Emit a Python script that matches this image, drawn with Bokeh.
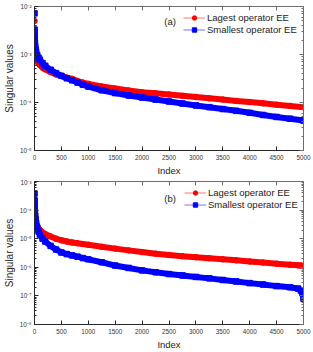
from bokeh.plotting import figure
from bokeh.layouts import column
from bokeh.models import (Range1d, FixedTicker, LinearAxis, LogAxis, CustomJSTickFormatter,
                          Legend, LegendItem, Label)
from bokeh.embed import file_html
from bokeh.resources import INLINE

# ---------------- data ----------------
idx_a = [1, 2, 3, 5, 8, 12, 20, 30, 50, 75, 100, 150, 200, 300, 400, 500, 600, 700, 800, 900,
         1000, 1250, 1500, 1750, 2000, 2250, 2500, 2750, 3000, 3250, 3500, 3750, 4000, 4250,
         4500, 4750, 5000]
largest_a = [5e-3, 1.8e-3, 1.5e-3, 1.25e-3, 1.1e-3, 1.0e-3, 9e-4, 8.2e-4, 7.2e-4, 6.5e-4, 6.0e-4,
             5.3e-4, 4.9e-4, 4.3e-4, 3.85e-4, 3.55e-4, 3.3e-4, 3.1e-4, 2.8e-4, 2.6e-4,
             2.45e-4, 2.15e-4, 1.95e-4, 1.78e-4, 1.63e-4, 1.55e-4, 1.47e-4, 1.38e-4, 1.3e-4,
             1.22e-4, 1.15e-4, 1.08e-4, 1.02e-4, 9.6e-5, 9.0e-5, 8.5e-5, 8.0e-5]
smallest_a = [7.2e-3, 3.3e-3, 2.6e-3, 2.1e-3, 1.75e-3, 1.5e-3, 1.3e-3, 1.15e-3, 9.8e-4, 8.6e-4,
              7.8e-4, 6.6e-4, 5.8e-4, 4.8e-4, 4.1e-4, 3.6e-4, 3.2e-4, 2.9e-4, 2.6e-4, 2.35e-4,
              2.15e-4, 1.8e-4, 1.57e-4, 1.4e-4, 1.27e-4, 1.15e-4, 1.05e-4, 9.5e-5, 8.7e-5,
              8.0e-5, 7.3e-5, 6.7e-5, 6.1e-5, 5.5e-5, 5.0e-5, 4.6e-5, 4.2e-5]

idx_b = [1, 2, 3, 5, 8, 12, 20, 30, 50, 75, 100, 150, 200, 300, 400, 500, 600, 700, 800, 900,
         1000, 1250, 1500, 1750, 2000, 2250, 2500, 2750, 3000, 3250, 3500, 3750, 4000, 4250,
         4500, 4750, 4900, 4950, 4980, 5000]
largest_b = [1.5e-4, 1.1e-4, 9e-5, 7.2e-5, 6e-5, 5e-5, 4.1e-5, 3.5e-5, 2.8e-5, 2.3e-5, 2.0e-5,
             1.65e-5, 1.45e-5, 1.2e-5, 1.0e-5, 8.8e-6, 8.0e-6, 7.4e-6, 6.9e-6, 6.5e-6,
             6.1e-6, 5.2e-6, 4.5e-6, 3.9e-6, 3.4e-6, 3.0e-6, 2.7e-6, 2.45e-6, 2.26e-6,
             2.07e-6, 1.9e-6, 1.75e-6, 1.6e-6, 1.46e-6, 1.34e-6, 1.23e-6, 1.17e-6, 1.15e-6,
             1.12e-6, 1.08e-6]
smallest_b = [3.8e-4, 2.2e-4, 1.6e-4, 1.15e-4, 8.5e-5, 6.5e-5, 4.8e-5, 3.6e-5, 2.5e-5, 1.8e-5,
              1.4e-5, 1.0e-5, 8e-6, 5.6e-6, 4.2e-6, 3.3e-6, 2.9e-6, 2.6e-6, 2.35e-6, 2.1e-6,
              1.9e-6, 1.5e-6, 1.15e-6, 9.5e-7, 7.8e-7, 6.7e-7, 5.8e-7, 5.2e-7, 4.6e-7,
              4.1e-7, 3.6e-7, 3.2e-7, 2.8e-7, 2.5e-7, 2.2e-7, 2.0e-7, 1.8e-7, 1.55e-7,
              1.25e-7, 8e-8]

x_ticks = [0, 500, 1000, 1500, 2000, 2500, 3000, 3500, 4000, 4500, 5000]
y_exp_a = [-5, -4, -3, -2]
y_lab_a = ["10\u207b\u2075", "10\u207b\u2074", "10\u207b\u00b3", "10\u207b\u00b2"]
y_exp_b = [-8, -7, -6, -5, -4, -3]
y_lab_b = ["10\u207b\u2078", "10\u207b\u2077", "10\u207b\u2076", "10\u207b\u2075", "10\u207b\u2074", "10\u207b\u00b3"]
series_names = ["Lagest operator EE", "Smallest operator EE"]
panel_tags = ["(a)", "(b)"]

FONT = "Liberation Sans"
AX = "#262626"
BOX = "#6e6e6e"
RED = "#ff0000"
BLUE = "#0000ff"


def make_panel(idx, big, small, exps, labs, tag, tag_y, height, top, bottom, leg_loc):
    p = figure(width=313, height=height, y_axis_type="log",
               x_range=Range1d(0, 5000), y_range=Range1d(10.0 ** exps[0], 10.0 ** exps[-1]),
               output_backend="svg", toolbar_location=None,
               min_border_left=31, min_border_right=10, min_border_top=top, min_border_bottom=bottom)
    p.grid.visible = False
    p.outline_line_color = None
    p.background_fill_color = "white"

    xt = FixedTicker(ticks=x_ticks, minor_ticks=[])
    minors = [m * 10.0 ** e for e in exps[:-1] for m in range(2, 10)]
    yt = FixedTicker(ticks=[10.0 ** e for e in exps], minor_ticks=minors)
    yfmt = CustomJSTickFormatter(args=dict(exps=exps, labs=labs), code="""
        const e = Math.round(Math.log10(tick));
        const i = exps.indexOf(e);
        return i >= 0 ? labs[i] : "";
    """)
    blank = CustomJSTickFormatter(code="return '';")

    xa = p.xaxis[0]
    xa.ticker = xt
    xa.axis_label = "Index"
    ya = p.yaxis[0]
    ya.ticker = yt
    ya.formatter = yfmt
    ya.axis_label = "Singular values"
    for a in (xa, ya):
        a.axis_line_color = AX
        a.major_tick_line_color = AX
        a.minor_tick_line_color = AX
        a.major_tick_in = 4
        a.major_tick_out = 0
        a.minor_tick_in = 2
        a.minor_tick_out = 0
        a.major_label_text_font = FONT
        a.major_label_text_font_size = "6.3px"
        a.major_label_text_color = "#333333"
        a.axis_label_text_font = FONT
        a.axis_label_text_font_style = "normal"
        a.axis_label_text_color = "#262626"
    xa.major_label_standoff = 4
    xa.axis_label_standoff = 2
    xa.axis_label_text_font_size = "9.5px"
    ya.major_label_standoff = 3
    ya.axis_label_standoff = 2
    ya.axis_label_text_font_size = "10px"

    top_ax = LinearAxis(ticker=xt, formatter=blank)
    right_ax = LogAxis(ticker=yt, formatter=blank)
    for a in (top_ax, right_ax):
        a.axis_line_color = BOX
        a.major_tick_line_color = BOX
        a.minor_tick_line_color = BOX
        a.major_tick_in = 4
        a.major_tick_out = 0
        a.minor_tick_in = 2
        a.minor_tick_out = 0
        a.major_label_standoff = 0
        a.major_label_text_font_size = "1px"
    p.add_layout(top_ax, "above")
    p.add_layout(right_ax, "right")

    items = []
    for vals, col, mk, name in ((big, RED, "circle", series_names[0]),
                                (small, BLUE, "square", series_names[1])):
        p.line(idx[1:], vals[1:], line_color=col, line_width=6, line_cap="round", line_join="round")
        thin = p.line(idx, vals, line_color=col, line_width=1, line_alpha=0.55)
        sc = p.scatter(idx, vals, marker=mk, size=5.5, fill_color=col, line_color=col)
        items.append(LegendItem(label=name, renderers=[thin, sc]))

    leg = Legend(items=items, location=leg_loc, background_fill_alpha=0, border_line_color=None,
                 padding=0, margin=0, spacing=1, glyph_width=22, glyph_height=11, label_height=11,
                 label_standoff=2, label_text_font=FONT, label_text_font_size="9.5px",
                 label_text_color="#1a1a1a")
    p.add_layout(leg)
    p.add_layout(Label(x=2414, y=tag_y, text=tag, text_font=FONT, text_font_size="9.5px",
                       text_baseline="middle", text_align="left", text_color="#1a1a1a"))
    return p


p1 = make_panel(idx_a, largest_a, smallest_a, y_exp_a, y_lab_a, panel_tags[0], 4.8e-3,
                178, 6, 25, (149, 115))
p2 = make_panel(idx_b, largest_b, smallest_b, y_exp_b, y_lab_b, panel_tags[1], 2.6e-4,
                174, 3, 26, (150, 114))

layout = column(p1, p2, spacing=0)

open("out.html", "w").write(file_html(layout, INLINE))
